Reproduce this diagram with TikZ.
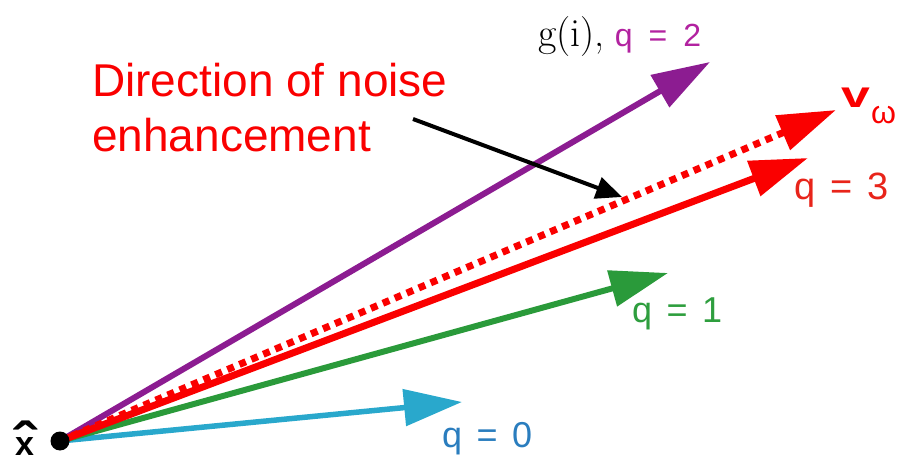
\documentclass[tikz,border=0pt]{standalone}
\usepackage{fontspec}
\newfontfamily\hv{Liberation Sans}
\usetikzlibrary{arrows.meta}
\definecolor{cpurple}{RGB}{140,28,145}
\definecolor{cmag}{RGB}{178,34,160}
\definecolor{cred}{RGB}{250,0,0}
\definecolor{cred3}{RGB}{232,36,26}
\definecolor{cgreen}{RGB}{42,154,58}
\definecolor{cgreentxt}{RGB}{46,158,62}
\definecolor{ccyan}{RGB}{41,168,204}
\definecolor{cblue}{RGB}{42,125,190}
\newcommand\qlab[2]{q\hspace{#1}=\hspace{#1}#2}
\begin{document}
\begin{tikzpicture}[x=1pt,y=-1pt,
  vec/.style={line width=6pt,-{Triangle[length=58pt,width=36pt]}},
  lab/.style={anchor=base west,inner sep=0pt},
  dotnode/.style={circle,fill=black,minimum size=19pt,inner sep=0pt}]
\useasboundingbox (0,0) rectangle (897,462);
\coordinate (o) at (60,441);
\coordinate (t2) at (710,62);
\coordinate (tv) at (836,110);
\coordinate (t3) at (808,158);
\coordinate (t1) at (668,273);
\coordinate (t0) at (462,402);
% vectors
\draw[vec,cpurple] (o) -- (t2);
\draw[vec,ccyan,line width=5.5pt] (o) -- (t0);
\draw[vec,cgreen] (o) -- (t1);
\draw[vec,cred,line width=7pt,dash pattern=on 7pt off 6pt] (o) -- (tv);
\draw[vec,cred,line width=7pt] (o) -- (t3);
% origin dot
\node[dotnode] (xdot) at (o) {};
% labels
\node[lab,font=\hv\bfseries\fontsize{34}{36}\selectfont] (xhat) at (15,455)
  {\rlap{\hspace{-2pt}\raisebox{-6pt}{\scalebox{2}[1.6]{ˆ}}}x};
\node[lab,font=\fontsize{40}{42}\selectfont] (g2) at (538,47)
  {g(i),\hspace{10pt}{\hv\fontsize{32}{36}\selectfont\color{cmag}\qlab{0.5em}{2}}};
\node[lab,text=cred,font=\hv\fontsize{37}{40}\selectfont] (vw) at (841,108)
  {\scalebox{1.4}[1]{\bfseries v}\hspace{1pt}\raisebox{-16pt}{\fontsize{32}{34}\selectfont ω}};
\node[lab,text=cred3,font=\hv\fontsize{38}{40}\selectfont] (q3) at (794,200) {\qlab{0.4em}{3}};
\node[lab,text=cgreentxt,font=\hv\fontsize{36}{40}\selectfont] (q1) at (632,323) {\qlab{0.4em}{1}};
\node[lab,text=cblue,font=\hv\fontsize{36}{40}\selectfont] (q0) at (442,447) {\qlab{0.4em}{0}};
\node[anchor=north west,inner sep=0pt,align=left,text=cred,font=\hv\fontsize{46}{55}\selectfont] (dir) at (92,63)
  {Direction of noise\\enhancement};
% pointer
\coordinate (ps) at (413,119);
\coordinate (pe) at (622,197);
\draw[line width=4pt,-{Triangle[length=26pt,width=22pt]}] (ps) -- (pe);
\end{tikzpicture}
\end{document}
